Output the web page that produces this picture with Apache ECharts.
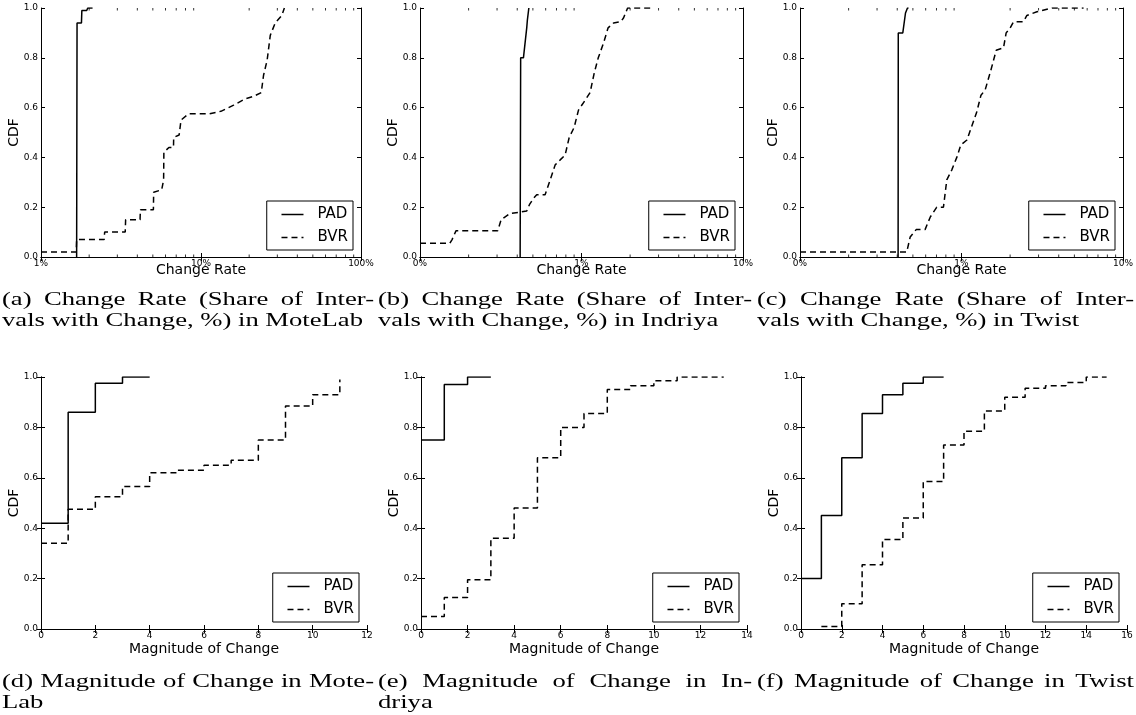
<!DOCTYPE html>
<html><head><meta charset="utf-8">
<script src="https://cdn.jsdelivr.net/npm/echarts@6/dist/echarts.min.js"></script>
<style>html,body{margin:0;padding:0;background:#fff}#c{width:1136px;height:715px}</style>
</head><body><div id="c"></div>
<script>
// ---------- data ----------
const seriesNames = ['PAD', 'BVR'];

// Change rate (%) CDFs (log x axis)
const padMoteLabRate = [[1.67,0],[1.68,0.94],[1.79,0.94],[1.80,0.99],[1.93,0.99],[1.96,1.0],[2.1,1.0]];
const bvrMoteLabRate = [[1,0.02],[1.66,0.02],[1.67,0.07],[2.48,0.07],[2.50,0.10],[3.36,0.10],[3.38,0.15],[4.16,0.15],[4.18,0.19],[5.04,0.19],[5.06,0.26],[5.68,0.27],[5.84,0.31],[5.86,0.42],[6.3,0.44],[6.73,0.44],[6.75,0.48],[7.3,0.49],[7.5,0.55],[8.37,0.575],[11.2,0.575],[13.3,0.585],[16,0.61],[18.9,0.635],[21.3,0.645],[23.8,0.66],[24.6,0.73],[25.9,0.79],[27.1,0.89],[29.1,0.94],[32,0.97],[33.2,1.0]];

const padIndriyaRate = [[0.417,0],[0.42,0.80],[0.437,0.80],[0.458,0.92],[0.462,0.95],[0.472,1.0]];
const bvrIndriyaRate = [[0.1,0.055],[0.153,0.055],[0.158,0.07],[0.167,0.105],[0.303,0.105],[0.318,0.15],[0.361,0.175],[0.417,0.18],[0.458,0.185],[0.476,0.21],[0.504,0.235],[0.528,0.25],[0.595,0.25],[0.64,0.31],[0.687,0.37],[0.738,0.39],[0.792,0.41],[0.839,0.48],[0.90,0.52],[0.958,0.59],[1.054,0.63],[1.13,0.66],[1.2,0.74],[1.27,0.80],[1.37,0.86],[1.46,0.92],[1.58,0.94],[1.75,0.945],[1.82,0.96],[1.93,1.0],[2.79,1.0]];

const padTwistRate = [[0.405,0],[0.406,0.90],[0.433,0.90],[0.45,0.98],[0.463,1.0],[0.47,1.0]];
const bvrTwistRate = [[0.1,0.02],[0.458,0.02],[0.481,0.08],[0.524,0.11],[0.595,0.11],[0.64,0.16],[0.703,0.20],[0.773,0.20],[0.811,0.31],[0.871,0.35],[0.935,0.40],[0.99,0.45],[1.08,0.47],[1.24,0.58],[1.32,0.65],[1.40,0.67],[1.52,0.75],[1.64,0.83],[1.82,0.84],[1.89,0.90],[2.0,0.92],[2.10,0.945],[2.42,0.945],[2.54,0.97],[2.93,0.985],[3.63,1.0],[5.7,1.0]];

// Magnitude of change CDFs (step functions)
const padMoteLabMag = [[0,0.42],[1,0.86],[2,0.975],[3,1.0],[4,1.0]];
const bvrMoteLabMag = [[0,0.34],[1,0.475],[2,0.525],[3,0.565],[4,0.62],[5,0.63],[6,0.65],[7,0.67],[8,0.75],[9,0.885],[10,0.93],[11,0.99]];
const padIndriyaMag = [[0,0.75],[1,0.97],[2,1.0],[3,1.0]];
const bvrIndriyaMag = [[0,0.05],[1,0.125],[2,0.195],[3,0.36],[4,0.48],[5,0.68],[6,0.80],[7,0.855],[8,0.95],[9,0.965],[10,0.985],[11,1.0],[13,1.0]];
const padTwistMag = [[0,0.2],[1,0.45],[2,0.68],[3,0.855],[4,0.93],[5,0.975],[6,1.0],[7,1.0]];
const bvrTwistMag = [[1,0.01],[2,0.10],[3,0.255],[4,0.355],[5,0.44],[6,0.585],[7,0.73],[8,0.785],[9,0.865],[10,0.92],[11,0.955],[12,0.965],[13,0.978],[14,1.0],[15,1.0]];

// axis ranges / tick settings
const rateAxisMins = [1, 0.1, 0.1];
const rateAxisMaxs = [100, 10, 10];
const magAxisMaxs = [12, 14, 16];
const magAxisInterval = 2;
const cdfTicks = { min: 0, max: 1, interval: 0.2 };
const minorTickMultipliers = [2, 3, 4, 5, 6, 7, 8, 9];

const xNames = ['Change Rate', 'Change Rate', 'Change Rate', 'Magnitude of Change', 'Magnitude of Change', 'Magnitude of Change'];
const yName = 'CDF';

const captions = [
  { lines: ['(a) Change Rate (Share of Inter-', 'vals with Change, %) in MoteLab'] },
  { lines: ['(b) Change Rate (Share of Inter-', 'vals with Change, %) in Indriya'] },
  { lines: ['(c) Change Rate (Share of Inter-', 'vals with Change, %) in Twist'] },
  { lines: ['(d) Magnitude of Change in Mote-', 'Lab'] },
  { lines: ['(e) Magnitude of Change in In-', 'driya'] },
  { lines: ['(f) Magnitude of Change in Twist'] }
];

// ---------- layout ----------
const W = 1136, H = 715;
const FONT = 'DejaVu Sans';
const grids = [
  { left: 41, top: 8, width: 320, height: 249 },
  { left: 420, top: 8, width: 323, height: 249 },
  { left: 800, top: 8, width: 323, height: 249 },
  { left: 41, top: 377, width: 326, height: 252 },
  { left: 421, top: 377, width: 326, height: 252 },
  { left: 801, top: 377, width: 326, height: 252 }
];
const captionPos = [
  { x: 2, right: 374, y: 300 }, { x: 378, right: 752, y: 300 }, { x: 757, right: 1134, y: 300 },
  { x: 2, right: 374, y: 682 }, { x: 378, right: 752, y: 682 }, { x: 757, right: 1134, y: 682 }
];
const captionLineGap = 21;

const panelData = [
  [padMoteLabRate, bvrMoteLabRate], [padIndriyaRate, bvrIndriyaRate], [padTwistRate, bvrTwistRate],
  [padMoteLabMag, bvrMoteLabMag], [padIndriyaMag, bvrIndriyaMag], [padTwistMag, bvrTwistMag]
];

const black = '#000';
const xAxes = [], yAxes = [], series = [], legends = [];

function pctLabel(v) { return Math.floor(Math.round(v * 1000) / 1000) + '%'; }

for (let i = 0; i < 6; i++) {
  const isLog = i < 3;
  const g = grids[i];
  const base = {
    gridIndex: i,
    type: isLog ? 'log' : 'value',
    logBase: 10,
    min: isLog ? rateAxisMins[i] : 0,
    max: isLog ? rateAxisMaxs[i] : magAxisMaxs[i - 3],
    splitLine: { show: false },
    axisLine: { lineStyle: { color: black, width: 1 } },
    axisTick: { inside: true, length: 4, lineStyle: { color: black, width: 1 } }
  };
  if (!isLog) base.interval = magAxisInterval;
  xAxes.push(Object.assign({}, base, {
    position: 'bottom',
    name: xNames[i], nameLocation: 'middle', nameGap: isLog ? 6 : 13,
    nameMoveOverlap: false,
    nameTextStyle: { fontFamily: FONT, fontSize: 14, color: black, verticalAlign: 'top' },
    axisLabel: { show: true, fontFamily: FONT, fontSize: 9, color: black, margin: 2,
      showMinLabel: true, showMaxLabel: true,
      formatter: isLog ? pctLabel : (v => String(v)) }
  }));
  xAxes.push(Object.assign({}, base, { position: 'top', axisLabel: { show: false } }));
  const ybase = {
    gridIndex: i, type: 'value', min: cdfTicks.min, max: cdfTicks.max, interval: cdfTicks.interval,
    splitLine: { show: false },
    axisLine: { show: true, lineStyle: { color: black, width: 1 } },
    axisTick: { show: true, inside: true, length: 4, lineStyle: { color: black, width: 1 } }
  };
  yAxes.push(Object.assign({}, ybase, {
    position: 'left',
    name: yName, nameLocation: 'middle', nameGap: 20, nameMoveOverlap: false,
    nameTextStyle: { fontFamily: FONT, fontSize: 14, color: black },
    axisLabel: { fontFamily: FONT, fontSize: 9, color: black, margin: 3,
      showMinLabel: true, showMaxLabel: true, formatter: v => v.toFixed(1) }
  }));
  yAxes.push(Object.assign({}, ybase, { position: 'right', axisLabel: { show: false } }));

  const [pad, bvr] = panelData[i];
  [pad, bvr].forEach((d, k) => {
    series.push({
      name: seriesNames[k], type: 'line', xAxisIndex: 2 * i, yAxisIndex: 2 * i,
      data: d, symbol: 'none', showSymbol: false, step: isLog ? false : 'end',
      lineStyle: { color: black, width: 1.5, type: k === 0 ? 'solid' : [6, 4] },
      itemStyle: { color: black },
      silent: true, z: 3
    });
  });

  if (isLog) {
    const minor = [];
    let dec = rateAxisMins[i];
    while (dec < rateAxisMaxs[i] - 1e-9) {
      minorTickMultipliers.forEach(m => minor.push(+(m * dec).toPrecision(6)));
      dec *= 10;
    }
    series.push({
      name: 'minor-b' + i, type: 'scatter', xAxisIndex: 2 * i, yAxisIndex: 2 * i,
      data: minor.map(v => [v, cdfTicks.min]), symbol: 'rect', symbolSize: [1, 2.5],
      symbolOffset: [0, -1.25], itemStyle: { color: black }, silent: true, clip: false, z: 4
    });
    series.push({
      name: 'minor-t' + i, type: 'scatter', xAxisIndex: 2 * i, yAxisIndex: 2 * i,
      data: minor.map(v => [v, cdfTicks.max]), symbol: 'rect', symbolSize: [1, 2.5],
      symbolOffset: [0, 1.25], itemStyle: { color: black }, silent: true, clip: false, z: 4
    });
  }

  legends.push({
    orient: 'vertical', data: seriesNames.slice(),
    right: W - (g.left + g.width) + 8, bottom: H - (g.top + g.height) + 7,
    itemWidth: 22, itemHeight: 12, itemGap: 8,
    padding: [6, 5, 5, 14],
    borderColor: black, borderWidth: 1, borderRadius: 0, backgroundColor: '#fff',
    selectedMode: false,
    itemStyle: { opacity: 0, color: 'transparent', borderWidth: 0 },
    lineStyle: { width: 1.5 },
    textStyle: { fontFamily: FONT, fontSize: 15, color: black, padding: [0, 0, 0, 9] }
  });
}

// ---------- captions (serif, justified) ----------
const capFontSize = 19;
const capFamily = '"Liberation Serif", "DejaVu Serif", serif';
const capFont = capFontSize + 'px ' + capFamily;
const mctx = document.createElement('canvas').getContext('2d');
mctx.font = capFont;
const sx = 361 / mctx.measureText('vals with Change, %) in MoteLab').width;
const graphics = [];
function addText(str, x, y) {
  graphics.push({ type: 'text', x: x, y: y, scaleX: sx, silent: true,
    style: { text: str, font: capFont, fill: black, align: 'left', verticalAlign: 'middle' } });
}
captions.forEach((c, i) => {
  const p = captionPos[i];
  c.lines.forEach((line, li) => {
    const y = p.y + li * captionLineGap;
    const justify = li < c.lines.length - 1 || i === 5;
    if (!justify) { addText(line, p.x, y); return; }
    const words = line.split(' ');
    const widths = words.map(w => mctx.measureText(w).width * sx);
    const total = widths.reduce((a, b) => a + b, 0);
    const gap = (p.right - p.x - total) / (words.length - 1);
    let x = p.x;
    words.forEach((w, k) => { addText(w, x, y); x += widths[k] + gap; });
  });
});

const chart = echarts.init(document.getElementById('c'), null, { renderer: 'canvas' });
chart.setOption({
  animation: false,
  backgroundColor: '#fff',
  grid: grids.map(g => Object.assign({ containLabel: false, outerBoundsMode: 'none' }, g)),
  xAxis: xAxes,
  yAxis: yAxes,
  legend: legends,
  series: series,
  graphic: graphics
});
</script></body></html>
